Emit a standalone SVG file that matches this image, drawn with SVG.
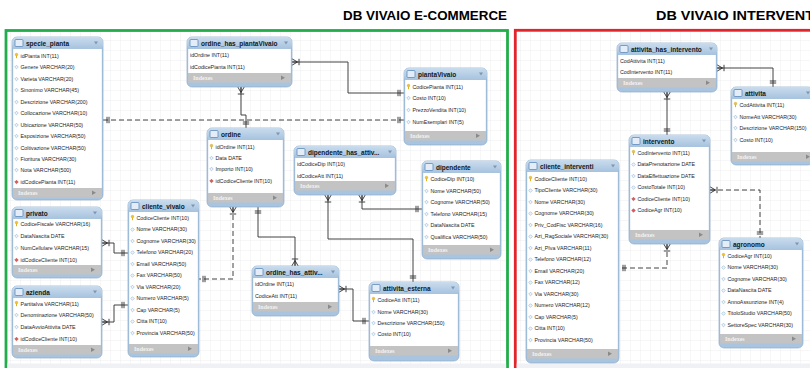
<svg xmlns="http://www.w3.org/2000/svg" width="810" height="368" viewBox="0 0 810 368">
  <style>
    .ttl{font-family:"Liberation Sans",Arial,sans-serif;font-weight:900;font-size:12px;fill:#000}
    .hd{font-family:"Liberation Sans",Arial,sans-serif;font-weight:bold;font-size:6.5px;fill:#101820}
    .c{font-family:"Liberation Sans",Arial,sans-serif;font-size:5.3px;fill:#1e1e1e}
    .ix{font-family:"Liberation Serif","Times New Roman",serif;font-weight:bold;font-size:6px;fill:#f2f2f2}
    .box{fill:#a8c4df;stroke:#8eaccb;stroke-width:0.7}
    .body{fill:#ffffff}
    .bar{fill:#c3c3c3}
    .cn{fill:none;stroke:#2e2e2e;stroke-width:0.9}
    .dash{stroke-dasharray:5 3}
    .one{marker-start:url(#one);marker-end:url(#one)}
    .m1{marker-start:url(#many);marker-end:url(#one)}
    .om{marker-start:url(#one);marker-end:url(#many)}
  </style>
  <defs>
    <pattern id="grid" width="10" height="10" patternUnits="userSpaceOnUse">
      <rect width="10" height="10" fill="#ffffff"/>
      <path d="M10,0H0V10" fill="none" stroke="#e2e4e7" stroke-width="0.6"/>
    </pattern>
    <linearGradient id="hdr" x1="0" y1="0" x2="0" y2="1">
      <stop offset="0" stop-color="#cadcee"/>
      <stop offset="1" stop-color="#a3c0dc"/>
    </linearGradient>
    <!-- relationship ends: drawn as if the line runs in +x into the table edge -->
    <marker id="one" markerUnits="userSpaceOnUse" viewBox="0 0 12 10" markerWidth="12" markerHeight="10" refX="10" refY="5" orient="auto-start-reverse">
      <path d="M4,1.8V8.2M6,1.8V8.2" fill="none" stroke="#2e2e2e" stroke-width="0.9"/>
    </marker>
    <marker id="many" markerUnits="userSpaceOnUse" viewBox="0 0 12 10" markerWidth="12" markerHeight="10" refX="10" refY="5" orient="auto-start-reverse">
      <path d="M3,1.8V8.2M4.5,5L10,1.8M4.5,5L10,8.2M4.5,5H10" fill="none" stroke="#2e2e2e" stroke-width="0.9"/>
    </marker>
    <!-- column icons -->
    <g id="pk"><circle cx="0" cy="-1.4" r="1.3" fill="#f2c230" stroke="#c79a10" stroke-width="0.4"/><rect x="-0.5" y="-0.4" width="1" height="2.6" fill="#e0b020"/></g>
    <path id="col" d="M0,-1.8L1.8,0L0,1.8L-1.8,0Z" fill="#eef4fa" stroke="#8fb3cf" stroke-width="0.6"/>
    <path id="fk" d="M0,-1.8L1.8,0L0,1.8L-1.8,0Z" fill="#d95a5a" stroke="#b03c3c" stroke-width="0.5"/>
    <rect id="ticon" x="0" y="0" width="8" height="7" rx="1" fill="#e4edf7" stroke="#4f7fb5" stroke-width="0.7"/>
  </defs>

  <!-- page background and titles -->
  <rect width="810" height="368" fill="#ffffff"/>
  <text class="ttl" x="343" y="20.3" textLength="164" lengthAdjust="spacingAndGlyphs">DB VIVAIO E-COMMERCE</text>
  <text class="ttl" x="656" y="20.3" textLength="162" lengthAdjust="spacingAndGlyphs">DB VIVAIO INTERVENTI</text>

  <!-- schema panels -->
  <g id="panels">
    <rect x="6" y="30.5" width="501.5" height="400" fill="url(#grid)" stroke="#22ad4c" stroke-width="2.8"/>
    <rect x="515.3" y="30.3" width="320" height="400" fill="url(#grid)" stroke="#e0252c" stroke-width="2.8"/>
    <rect x="7.4" y="363.5" width="498.7" height="5" fill="#eff1f4"/>
    <rect x="516.7" y="363.5" width="294" height="5" fill="#eff1f4"/>
  </g>

  <!-- relationships -->
  <g id="connectors">
    <path class="cn dash one" d="M103,120H404"/>
    <path class="cn m1" d="M292,62H348V93H404"/>
    <path class="cn m1" d="M241,87V115H246V128"/>
    <path class="cn dash m1" d="M233,207V279H199"/>
    <path class="cn om" d="M258,207V237H295V266"/>
    <path class="cn m1" d="M339,289H353V321H369"/>
    <path class="cn m1" d="M328,195V239H413V282"/>
    <path class="cn m1" d="M362,195V209H422"/>
    <path class="cn m1" d="M102,243H114V253H128"/>
    <path class="cn m1" d="M102,322H114V305H128"/>
    <path class="cn m1" d="M717,68H773V87"/>
    <path class="cn m1" d="M667,92V135"/>
    <path class="cn dash m1" d="M710,190H760V238"/>
    <path class="cn dash m1" d="M667,244V268H619"/>
  </g>

  <!-- specie_pianta -->
  <g id="specie_pianta" transform="translate(12,37)">
    <rect class="box" width="91" height="163" rx="5"/>
    <rect width="91" height="13" rx="5" fill="url(#hdr)"/>
    <use href="#ticon" x="3" y="2.5"/>
    <text class="hd" x="14" y="8.8">specie_pianta</text>
    <path d="M82,4.5h4l-2,3z" fill="#7f96b0"/>
    <rect class="body" x="1.2" y="12" width="88.6" height="139"/>
    <use href="#pk" x="4.5" y="19"/><text class="c" x="8.5" y="20.9">idPianta INT(11)</text>
    <use href="#col" x="4.5" y="30"/><text class="c" x="8.5" y="31.9">Genere VARCHAR(20)</text>
    <use href="#col" x="4.5" y="42"/><text class="c" x="8.5" y="43.9">Varieta VARCHAR(20)</text>
    <use href="#col" x="4.5" y="53"/><text class="c" x="8.5" y="54.9">Sinonimo VARCHAR(45)</text>
    <use href="#col" x="4.5" y="65"/><text class="c" x="8.5" y="66.9">Descrizione VARCHAR(200)</text>
    <use href="#col" x="4.5" y="76"/><text class="c" x="8.5" y="77.9">Collocazione VARCHAR(10)</text>
    <use href="#col" x="4.5" y="88"/><text class="c" x="8.5" y="89.9">Ubicazione VARCHAR(50)</text>
    <use href="#col" x="4.5" y="99"/><text class="c" x="8.5" y="100.9">Esposizione VARCHAR(50)</text>
    <use href="#col" x="4.5" y="111"/><text class="c" x="8.5" y="112.9">Coltivazione VARCHAR(50)</text>
    <use href="#col" x="4.5" y="122"/><text class="c" x="8.5" y="123.9">Fioritura VARCHAR(30)</text>
    <use href="#col" x="4.5" y="133"/><text class="c" x="8.5" y="134.9">Nota VARCHAR(500)</text>
    <use href="#fk" x="4.5" y="145"/><text class="c" x="8.5" y="146.9">idCodicePianta INT(11)</text>
    <rect class="bar" x="1.2" y="151" width="88.6" height="9.5"/>
    <text class="ix" x="6" y="158">Indexes</text>
    <path d="M80,153.5l4,2.2l-4,2.2z" fill="#8a8a8a"/>
  </g>

  <!-- privato -->
  <g id="privato" transform="translate(12,207)">
    <rect class="box" width="90" height="71" rx="5"/>
    <rect width="90" height="13" rx="5" fill="url(#hdr)"/>
    <use href="#ticon" x="3" y="2.5"/>
    <text class="hd" x="14" y="8.8">privato</text>
    <path d="M81,4.5h4l-2,3z" fill="#7f96b0"/>
    <rect class="body" x="1.2" y="12" width="87.6" height="46"/>
    <use href="#pk" x="4.5" y="17"/><text class="c" x="8.5" y="18.9">CodiceFiscale VARCHAR(16)</text>
    <use href="#col" x="4.5" y="29"/><text class="c" x="8.5" y="30.9">DataNascita DATE</text>
    <use href="#col" x="4.5" y="41"/><text class="c" x="8.5" y="42.9">NumCellulare VARCHAR(15)</text>
    <use href="#fk" x="4.5" y="53"/><text class="c" x="8.5" y="54.9">idCodiceCliente INT(10)</text>
    <rect class="bar" x="1.2" y="58" width="87.6" height="9.5"/>
    <text class="ix" x="6" y="65">Indexes</text>
    <path d="M79,60.5l4,2.2l-4,2.2z" fill="#8a8a8a"/>
  </g>

  <!-- azienda -->
  <g id="azienda" transform="translate(12,286)">
    <rect class="box" width="90" height="72" rx="5"/>
    <rect width="90" height="13" rx="5" fill="url(#hdr)"/>
    <use href="#ticon" x="3" y="2.5"/>
    <text class="hd" x="14" y="8.8">azienda</text>
    <path d="M81,4.5h4l-2,3z" fill="#7f96b0"/>
    <rect class="body" x="1.2" y="12" width="87.6" height="47"/>
    <use href="#pk" x="4.5" y="18"/><text class="c" x="8.5" y="19.9">PartitaIva VARCHAR(11)</text>
    <use href="#col" x="4.5" y="29"/><text class="c" x="8.5" y="30.9">Denominazione VARCHAR(50)</text>
    <use href="#col" x="4.5" y="41"/><text class="c" x="8.5" y="42.9">DataAvvioAttivita DATE</text>
    <use href="#fk" x="4.5" y="53"/><text class="c" x="8.5" y="54.9">idCodiceCliente INT(10)</text>
    <rect class="bar" x="1.2" y="59" width="87.6" height="9.5"/>
    <text class="ix" x="6" y="66">Indexes</text>
    <path d="M79,61.5l4,2.2l-4,2.2z" fill="#8a8a8a"/>
  </g>

  <!-- cliente_vivaio -->
  <g id="cliente_vivaio" transform="translate(128,200)">
    <rect class="box" width="71" height="157" rx="5"/>
    <rect width="71" height="13" rx="5" fill="url(#hdr)"/>
    <use href="#ticon" x="3" y="2.5"/>
    <text class="hd" x="14" y="8.8">cliente_vivaio</text>
    <path d="M63,4.5h4l-2,3z" fill="#7f96b0"/>
    <rect class="body" x="1.2" y="12" width="68.6" height="132"/>
    <use href="#pk" x="4.5" y="18"/><text class="c" x="8.5" y="19.9">CodiceCliente INT(10)</text>
    <use href="#col" x="4.5" y="29.5"/><text class="c" x="8.5" y="31.4">Nome VARCHAR(30)</text>
    <use href="#col" x="4.5" y="41"/><text class="c" x="8.5" y="42.9">Cognome VARCHAR(30)</text>
    <use href="#col" x="4.5" y="52.5"/><text class="c" x="8.5" y="54.4">Telefono VARCHAR(20)</text>
    <use href="#col" x="4.5" y="64"/><text class="c" x="8.5" y="65.9">Email VARCHAR(50)</text>
    <use href="#col" x="4.5" y="75.5"/><text class="c" x="8.5" y="77.4">Fax VARCHAR(50)</text>
    <use href="#col" x="4.5" y="87"/><text class="c" x="8.5" y="88.9">Via VARCHAR(20)</text>
    <use href="#col" x="4.5" y="98.5"/><text class="c" x="8.5" y="100.4">Numero VARCHAR(5)</text>
    <use href="#col" x="4.5" y="110"/><text class="c" x="8.5" y="111.9">Cap VARCHAR(5)</text>
    <use href="#col" x="4.5" y="121.5"/><text class="c" x="8.5" y="123.4">Citta INT(10)</text>
    <use href="#col" x="4.5" y="133"/><text class="c" x="8.5" y="134.9">Provincia VARCHAR(50)</text>
    <rect class="bar" x="1.2" y="144" width="68.6" height="9.5"/>
    <text class="ix" x="6" y="151">Indexes</text>
    <path d="M60,146.5l4,2.2l-4,2.2z" fill="#8a8a8a"/>
  </g>

  <!-- ordine_has_piantaVivaio -->
  <g id="ordine_has_piantaVivaio" transform="translate(187,37)">
    <rect class="box" width="105" height="50" rx="5"/>
    <rect width="105" height="13" rx="5" fill="url(#hdr)"/>
    <use href="#ticon" x="3" y="2.5"/>
    <text class="hd" x="14" y="8.8">ordine_has_piantaVivaio</text>
    <path d="M97,4.5h4l-2,3z" fill="#7f96b0"/>
    <rect class="body" x="1.2" y="12" width="102.6" height="24"/>
    <text class="c" x="3" y="19.9">idOrdine INT(11)</text>
    <text class="c" x="3" y="31.9">idCodicePianta INT(11)</text>
    <rect class="bar" x="1.2" y="36" width="102.6" height="9.5"/>
    <text class="ix" x="6" y="43">Indexes</text>
    <path d="M94,38.5l4,2.2l-4,2.2z" fill="#8a8a8a"/>
  </g>

  <!-- ordine -->
  <g id="ordine" transform="translate(207,128)">
    <rect class="box" width="77" height="79" rx="5"/>
    <rect width="77" height="13" rx="5" fill="url(#hdr)"/>
    <use href="#ticon" x="3" y="2.5"/>
    <text class="hd" x="14" y="8.8">ordine</text>
    <path d="M69,4.5h4l-2,3z" fill="#7f96b0"/>
    <rect class="body" x="1.2" y="12" width="74.6" height="53"/>
    <use href="#pk" x="4.5" y="19"/><text class="c" x="8.5" y="20.9">idOrdine INT(11)</text>
    <use href="#col" x="4.5" y="30"/><text class="c" x="8.5" y="31.9">Data DATE</text>
    <use href="#col" x="4.5" y="41"/><text class="c" x="8.5" y="42.9">Importo INT(10)</text>
    <use href="#fk" x="4.5" y="53"/><text class="c" x="8.5" y="54.9">idCodiceCliente INT(10)</text>
    <rect class="bar" x="1.2" y="65" width="74.6" height="9.5"/>
    <text class="ix" x="6" y="72">Indexes</text>
    <path d="M66,67.5l4,2.2l-4,2.2z" fill="#8a8a8a"/>
  </g>

  <!-- piantaVivaio -->
  <g id="piantaVivaio" transform="translate(404,68)">
    <rect class="box" width="83" height="77" rx="5"/>
    <rect width="83" height="13" rx="5" fill="url(#hdr)"/>
    <use href="#ticon" x="3" y="2.5"/>
    <text class="hd" x="14" y="8.8">piantaVivaio</text>
    <path d="M75,4.5h4l-2,3z" fill="#7f96b0"/>
    <rect class="body" x="1.2" y="12" width="80.6" height="51"/>
    <use href="#pk" x="4.5" y="19"/><text class="c" x="8.5" y="20.9">CodicePianta INT(11)</text>
    <use href="#col" x="4.5" y="30"/><text class="c" x="8.5" y="31.9">Costo INT(10)</text>
    <use href="#col" x="4.5" y="42"/><text class="c" x="8.5" y="43.9">PrezzoVendita INT(10)</text>
    <use href="#col" x="4.5" y="54"/><text class="c" x="8.5" y="55.9">NumEsemplari INT(5)</text>
    <rect class="bar" x="1.2" y="63" width="80.6" height="9.5"/>
    <text class="ix" x="6" y="70">Indexes</text>
    <path d="M72,65.5l4,2.2l-4,2.2z" fill="#8a8a8a"/>
  </g>

  <!-- dipendente_has_attivita -->
  <g id="dipendente_has_attivita" transform="translate(294,146)">
    <rect class="box" width="102" height="49" rx="5"/>
    <rect width="102" height="13" rx="5" fill="url(#hdr)"/>
    <use href="#ticon" x="3" y="2.5"/>
    <text class="hd" x="14" y="8.8">dipendente_has_attiv...</text>
    <path d="M94,4.5h4l-2,3z" fill="#7f96b0"/>
    <rect class="body" x="1.2" y="12" width="99.6" height="23"/>
    <text class="c" x="3" y="19.9">idCodiceDip INT(10)</text>
    <text class="c" x="3" y="31.9">idCodiceAtt INT(11)</text>
    <rect class="bar" x="1.2" y="35" width="99.6" height="9.5"/>
    <text class="ix" x="6" y="42">Indexes</text>
    <path d="M91,37.5l4,2.2l-4,2.2z" fill="#8a8a8a"/>
  </g>

  <!-- dipendente -->
  <g id="dipendente" transform="translate(422,161)">
    <rect class="box" width="79" height="98" rx="5"/>
    <rect width="79" height="13" rx="5" fill="url(#hdr)"/>
    <use href="#ticon" x="3" y="2.5"/>
    <text class="hd" x="14" y="8.8">dipendente</text>
    <path d="M71,4.5h4l-2,3z" fill="#7f96b0"/>
    <rect class="body" x="1.2" y="12" width="76.6" height="72"/>
    <use href="#pk" x="4.5" y="18"/><text class="c" x="8.5" y="19.9">CodiceDip INT(10)</text>
    <use href="#col" x="4.5" y="30"/><text class="c" x="8.5" y="31.9">Nome VARCHAR(50)</text>
    <use href="#col" x="4.5" y="41"/><text class="c" x="8.5" y="42.9">Cognome VARCHAR(50)</text>
    <use href="#col" x="4.5" y="53"/><text class="c" x="8.5" y="54.9">Telefono VARCHAR(15)</text>
    <use href="#col" x="4.5" y="64"/><text class="c" x="8.5" y="65.9">DataNascita DATE</text>
    <use href="#col" x="4.5" y="76"/><text class="c" x="8.5" y="77.9">Qualifica VARCHAR(50)</text>
    <rect class="bar" x="1.2" y="84" width="76.6" height="9.5"/>
    <text class="ix" x="6" y="91">Indexes</text>
    <path d="M68,86.5l4,2.2l-4,2.2z" fill="#8a8a8a"/>
  </g>

  <!-- ordine_has_attivita -->
  <g id="ordine_has_attivita" transform="translate(252,266)">
    <rect class="box" width="87" height="50" rx="5"/>
    <rect width="87" height="13" rx="5" fill="url(#hdr)"/>
    <use href="#ticon" x="3" y="2.5"/>
    <text class="hd" x="14" y="8.8">ordine_has_attiv...</text>
    <path d="M79,4.5h4l-2,3z" fill="#7f96b0"/>
    <rect class="body" x="1.2" y="12" width="84.6" height="24"/>
    <text class="c" x="3" y="19.9">idOrdine INT(11)</text>
    <text class="c" x="3" y="31.9">CodiceAtt INT(11)</text>
    <rect class="bar" x="1.2" y="36" width="84.6" height="9.5"/>
    <text class="ix" x="6" y="43">Indexes</text>
    <path d="M76,38.5l4,2.2l-4,2.2z" fill="#8a8a8a"/>
  </g>

  <!-- attivita_esterna -->
  <g id="attivita_esterna" transform="translate(369,282)">
    <rect class="box" width="90" height="79" rx="5"/>
    <rect width="90" height="13" rx="5" fill="url(#hdr)"/>
    <use href="#ticon" x="3" y="2.5"/>
    <text class="hd" x="14" y="8.8">attivita_esterna</text>
    <path d="M82,4.5h4l-2,3z" fill="#7f96b0"/>
    <rect class="body" x="1.2" y="12" width="87.6" height="52"/>
    <use href="#pk" x="4.5" y="18"/><text class="c" x="8.5" y="19.9">CodiceAtt INT(11)</text>
    <use href="#col" x="4.5" y="30"/><text class="c" x="8.5" y="31.9">Nome VARCHAR(30)</text>
    <use href="#col" x="4.5" y="41"/><text class="c" x="8.5" y="42.9">Descrizione VARCHAR(150)</text>
    <use href="#col" x="4.5" y="52"/><text class="c" x="8.5" y="53.9">Costo INT(10)</text>
    <rect class="bar" x="1.2" y="64" width="87.6" height="9.5"/>
    <text class="ix" x="6" y="71">Indexes</text>
    <path d="M79,66.5l4,2.2l-4,2.2z" fill="#8a8a8a"/>
  </g>

  <!-- attivita_has_intervento -->
  <g id="attivita_has_intervento" transform="translate(617,43)">
    <rect class="box" width="100" height="49" rx="5"/>
    <rect width="100" height="13" rx="5" fill="url(#hdr)"/>
    <use href="#ticon" x="3" y="2.5"/>
    <text class="hd" x="14" y="8.8">attivita_has_intervento</text>
    <path d="M92,4.5h4l-2,3z" fill="#7f96b0"/>
    <rect class="body" x="1.2" y="12" width="97.6" height="23"/>
    <text class="c" x="3" y="19.9">CodAttivita INT(11)</text>
    <text class="c" x="3" y="30.9">CodIntervento INT(11)</text>
    <rect class="bar" x="1.2" y="35" width="97.6" height="9.5"/>
    <text class="ix" x="6" y="42">Indexes</text>
    <path d="M89,37.5l4,2.2l-4,2.2z" fill="#8a8a8a"/>
  </g>

  <!-- attivita -->
  <g id="attivita" transform="translate(731,87)">
    <rect class="box" width="82" height="78" rx="5"/>
    <rect width="82" height="13" rx="5" fill="url(#hdr)"/>
    <use href="#ticon" x="3" y="2.5"/>
    <text class="hd" x="14" y="8.8">attivita</text>
    <path d="M75,4.5h4l-2,3z" fill="#7f96b0"/>
    <rect class="body" x="1.2" y="12" width="79.6" height="53"/>
    <use href="#pk" x="4.5" y="18"/><text class="c" x="8.5" y="19.9">CodAttivita INT(11)</text>
    <use href="#col" x="4.5" y="30"/><text class="c" x="8.5" y="31.9">NomeAtt VARCHAR(30)</text>
    <use href="#col" x="4.5" y="41"/><text class="c" x="8.5" y="42.9">Descrizione VARCHAR(150)</text>
    <use href="#col" x="4.5" y="53"/><text class="c" x="8.5" y="54.9">Costo INT(10)</text>
    <rect class="bar" x="1.2" y="65" width="79.6" height="9.5"/>
    <text class="ix" x="6" y="72">Indexes</text>
    <path d="M75,67.5l4,2.2l-4,2.2z" fill="#8a8a8a"/>
  </g>

  <!-- intervento -->
  <g id="intervento" transform="translate(629,135)">
    <rect class="box" width="81" height="109" rx="5"/>
    <rect width="81" height="13" rx="5" fill="url(#hdr)"/>
    <use href="#ticon" x="3" y="2.5"/>
    <text class="hd" x="14" y="8.8">intervento</text>
    <path d="M73,4.5h4l-2,3z" fill="#7f96b0"/>
    <rect class="body" x="1.2" y="12" width="78.6" height="83"/>
    <use href="#pk" x="4.5" y="18"/><text class="c" x="8.5" y="19.9">CodIntervento INT(11)</text>
    <use href="#col" x="4.5" y="29.5"/><text class="c" x="8.5" y="31.4">DataPrenotazione DATE</text>
    <use href="#col" x="4.5" y="41"/><text class="c" x="8.5" y="42.9">DataEffettuazione DATE</text>
    <use href="#col" x="4.5" y="52.5"/><text class="c" x="8.5" y="54.4">CostoTotale INT(10)</text>
    <use href="#fk" x="4.5" y="64"/><text class="c" x="8.5" y="65.9">CodiceCliente INT(10)</text>
    <use href="#fk" x="4.5" y="75.5"/><text class="c" x="8.5" y="77.4">CodiceAgr INT(10)</text>
    <rect class="bar" x="1.2" y="95" width="78.6" height="9.5"/>
    <text class="ix" x="6" y="102">Indexes</text>
    <path d="M70,97.5l4,2.2l-4,2.2z" fill="#8a8a8a"/>
  </g>

  <!-- cliente_interventi -->
  <g id="cliente_interventi" transform="translate(526,160)">
    <rect class="box" width="93" height="203" rx="5"/>
    <rect width="93" height="13" rx="5" fill="url(#hdr)"/>
    <use href="#ticon" x="3" y="2.5"/>
    <text class="hd" x="14" y="8.8">cliente_interventi</text>
    <path d="M85,4.5h4l-2,3z" fill="#7f96b0"/>
    <rect class="body" x="1.2" y="12" width="90.6" height="177"/>
    <use href="#pk" x="4.5" y="19"/><text class="c" x="8.5" y="20.9">CodiceCliente INT(10)</text>
    <use href="#col" x="4.5" y="30.5"/><text class="c" x="8.5" y="32.4">TipoCliente VARCHAR(30)</text>
    <use href="#col" x="4.5" y="42"/><text class="c" x="8.5" y="43.9">Nome VARCHAR(30)</text>
    <use href="#col" x="4.5" y="53.5"/><text class="c" x="8.5" y="55.4">Cognome VARCHAR(30)</text>
    <use href="#col" x="4.5" y="65"/><text class="c" x="8.5" y="66.9">Priv_CodFisc VARCHAR(16)</text>
    <use href="#col" x="4.5" y="76.5"/><text class="c" x="8.5" y="78.4">Azi_RagSociale VARCHAR(30)</text>
    <use href="#col" x="4.5" y="88"/><text class="c" x="8.5" y="89.9">Azi_PIva VARCHAR(11)</text>
    <use href="#col" x="4.5" y="99.5"/><text class="c" x="8.5" y="101.4">Telefono VARCHAR(12)</text>
    <use href="#col" x="4.5" y="111"/><text class="c" x="8.5" y="112.9">Email VARCHAR(20)</text>
    <use href="#col" x="4.5" y="122.5"/><text class="c" x="8.5" y="124.4">Fax VARCHAR(12)</text>
    <use href="#col" x="4.5" y="134"/><text class="c" x="8.5" y="135.9">Via VARCHAR(30)</text>
    <use href="#col" x="4.5" y="145.5"/><text class="c" x="8.5" y="147.4">Numero VARCHAR(12)</text>
    <use href="#col" x="4.5" y="157"/><text class="c" x="8.5" y="158.9">Cap VARCHAR(5)</text>
    <use href="#col" x="4.5" y="168.5"/><text class="c" x="8.5" y="170.4">Citta INT(10)</text>
    <use href="#col" x="4.5" y="180"/><text class="c" x="8.5" y="181.9">Provincia VARCHAR(50)</text>
    <rect class="bar" x="1.2" y="189" width="90.6" height="9.5"/>
    <text class="ix" x="6" y="196">Indexes</text>
    <path d="M82,191.5l4,2.2l-4,2.2z" fill="#8a8a8a"/>
  </g>

  <!-- agronomo -->
  <g id="agronomo" transform="translate(719,238)">
    <rect class="box" width="84" height="110" rx="5"/>
    <rect width="84" height="13" rx="5" fill="url(#hdr)"/>
    <use href="#ticon" x="3" y="2.5"/>
    <text class="hd" x="14" y="8.8">agronomo</text>
    <path d="M76,4.5h4l-2,3z" fill="#7f96b0"/>
    <rect class="body" x="1.2" y="12" width="81.6" height="84"/>
    <use href="#pk" x="4.5" y="18"/><text class="c" x="8.5" y="19.9">CodiceAgr INT(10)</text>
    <use href="#col" x="4.5" y="29.5"/><text class="c" x="8.5" y="31.4">Nome VARCHAR(30)</text>
    <use href="#col" x="4.5" y="41"/><text class="c" x="8.5" y="42.9">Cognome VARCHAR(30)</text>
    <use href="#col" x="4.5" y="52.5"/><text class="c" x="8.5" y="54.4">DataNascita DATE</text>
    <use href="#col" x="4.5" y="64"/><text class="c" x="8.5" y="65.9">AnnoAssunzione INT(4)</text>
    <use href="#col" x="4.5" y="75.5"/><text class="c" x="8.5" y="77.4">TitoloStudio VARCHAR(50)</text>
    <use href="#col" x="4.5" y="87"/><text class="c" x="8.5" y="88.9">SettoreSpec VARCHAR(30)</text>
    <rect class="bar" x="1.2" y="96" width="81.6" height="9.5"/>
    <text class="ix" x="6" y="103">Indexes</text>
    <path d="M73,98.5l4,2.2l-4,2.2z" fill="#8a8a8a"/>
  </g>
</svg>
